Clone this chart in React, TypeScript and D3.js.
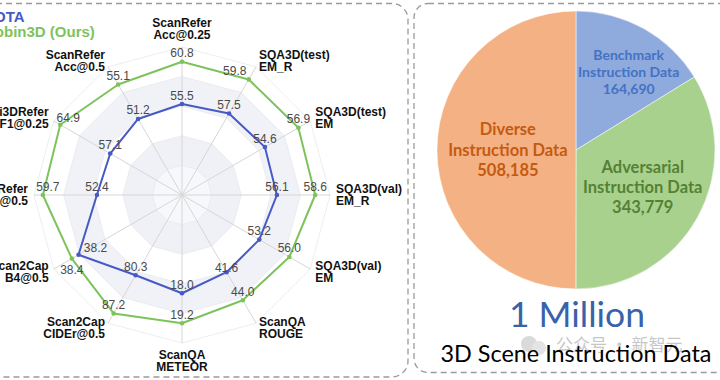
import React from "react";
import * as d3 from "d3";

// ---------- Radar data ----------
const axisNames: string[][] = [
  ["ScanRefer", "Acc@0.25"],
  ["SQA3D(test)", "EM_R"],
  ["SQA3D(test)", "EM"],
  ["SQA3D(val)", "EM_R"],
  ["SQA3D(val)", "EM"],
  ["ScanQA", "ROUGE"],
  ["ScanQA", "METEOR"],
  ["Scan2Cap", "CIDEr@0.5"],
  ["Scan2Cap", "B4@0.5"],
  ["Multi3DRefer", "F1@0.5"],
  ["Multi3DRefer", "F1@0.25"],
  ["ScanRefer", "Acc@0.5"],
];
const axisMin = [44.1, 52.0, 48.9, 49.9, 46.0, 35.0, 14.07, 65.8, 35.1, 40.9, 45.9, 42.6];
const axisMax = [62.65, 60.65, 57.71, 59.57, 57.94, 45.96, 19.99, 88.96, 38.94, 60.9, 65.9, 57.1];
const sotaValues = [55.5, 57.5, 54.6, 56.1, 53.2, 41.6, 18.0, 80.3, 38.2, 52.4, 57.1, 51.2];
const robinValues = [60.8, 59.8, 56.9, 58.6, 56.0, 44.0, 19.2, 87.2, 38.4, 59.7, 64.9, 55.1];
const seriesNames = ["SOTA", "Robin3D (Ours)"];

// ---------- Pie data ----------
const pieCategories = ["Benchmark", "Adversarial", "Diverse"];
const pieValues = [164690, 343779, 508185];
const pieTitle = "1 Million";
const pieSubtitle = "3D Scene Instruction Data";
const watermark = "公众号 · 新智元";

// ---------- styles ----------
const BLUE = "#4759c4";
const GREEN = "#7dc35c";
const pieFill = ["#8faadc", "#a9d18e", "#f4b183"];
const pieText = ["#4472c4", "#548235", "#c55a11"];
const bandFill = ["#f7f8fb", "#eff1f6", "#ffffff", "#f0f2f7", "#ffffff"];

// label nudges (dx, dy) for value labels
const sotaNudge: Record<number, [number, number]> = { 5: [0, 4.5], 8: [17, 2] };
const robinNudge: Record<number, [number, number]> = { 1: [-14, 0], 8: [0, 20], 9: [5, 0], 10: [8, 2] };

export default function App() {
  const W = 720, H = 380;
  const cx = 182, cy = 195, R = 148;
  const n = axisNames.length;
  const ang = (i: number) => (i * 2 * Math.PI) / n;
  const scales = axisNames.map((_, i) =>
    d3.scaleLinear().domain([axisMin[i], axisMax[i]]).range([0, R])
  );
  const pt = (i: number, r: number): [number, number] => [
    cx + r * Math.sin(ang(i)),
    cy - r * Math.cos(ang(i)),
  ];
  const radial = d3
    .lineRadial<number>()
    .angle((_, i) => ang(i))
    .curve(d3.curveLinearClosed);

  const ring = (r: number) => radial.radius(() => r)(axisNames.map(() => 0)) as string;
  const seriesPath = (vals: number[]) =>
    radial.radius((v, i) => scales[i](v))(vals) as string;

  const series = [
    { name: seriesNames[0], vals: sotaValues, color: BLUE, nudge: sotaNudge },
    { name: seriesNames[1], vals: robinValues, color: GREEN, nudge: robinNudge },
  ];

  // pie
  const pcx = 576, pcy = 150, pr = 139;
  const arcs = d3.pie<number>().sort(null)(pieValues);
  const arcGen = d3.arc<d3.PieArcDatum<number>>().innerRadius(0).outerRadius(pr);
  const fmt = d3.format(",");
  const pieLabel = [
    { rf: 0.66, dx: 8, dy: 2, size: 14, lh: 17 },
    { rf: 0.55, dx: 0, dy: 0, size: 16.5, lh: 20 },
    { rf: 0.49, dx: 0, dy: 0, size: 16.5, lh: 20.5 },
  ];

  const radarFont = "'Liberation Sans', Arial, Helvetica, sans-serif";
  const pieFont = "Lato, 'Open Sans', sans-serif";

  return (
    <svg
      width={W}
      height={H}
      style={{ position: "absolute", left: 0, top: 0, background: "#fff" }}
    >
      <rect x={0} y={0} width={W} height={H} fill="#fff" />
      {/* ---------------- Radar ---------------- */}
      <g>
        {d3.range(5, 0, -1).map((k) => (
          <path
            key={"band" + k}
            d={ring((R * k) / 5)}
            transform={`translate(${cx},${cy})`}
            fill={bandFill[k - 1]}
            stroke="#e8e9ee"
            strokeWidth={0.8}
          />
        ))}
        {axisNames.map((_, i) => {
          const [x, y] = pt(i, R);
          return <line key={"ax" + i} x1={cx} y1={cy} x2={x} y2={y} stroke="#d6d6d6" strokeWidth={1} />;
        })}
        {series.map((s) => (
          <g key={s.name}>
            <path
              d={seriesPath(s.vals)}
              transform={`translate(${cx},${cy})`}
              fill="none"
              stroke={s.color}
              strokeWidth={2}
              strokeLinejoin="round"
            />
            {s.vals.map((v, i) => {
              const [x, y] = pt(i, scales[i](v));
              return <circle key={i} cx={x} cy={y} r={2.3} fill={s.color} />;
            })}
          </g>
        ))}
        {series.map((s) =>
          s.vals.map((v, i) => {
            const [x, y] = pt(i, scales[i](v));
            const [dx, dy] = s.nudge[i] || [0, 0];
            return (
              <text
                key={s.name + "l" + i}
                x={x + dx}
                y={y - 4.5 + dy}
                textAnchor="middle"
                fontFamily={radarFont}
                fontSize={12}
                fill="#4a4a4a"
              >
                {v.toFixed(1)}
              </text>
            );
          })
        )}
        {axisNames.map((lines, i) => {
          const a = ang(i);
          const s = Math.sin(a), c = Math.cos(a);
          const [x, y] = pt(i, R + 6);
          let anchor = "middle";
          let b1 = y - 2.5;
          if (Math.abs(s) < 0.01) {
            b1 = c > 0 ? y - 14 : y + 10;
          } else {
            anchor = s > 0 ? "start" : "end";
          }
          return (
            <text
              key={"lab" + i}
              textAnchor={anchor}
              fontFamily={radarFont}
              fontWeight="bold"
              fontSize={12}
              fill="#111"
            >
              {lines.map((t, j) => (
                <tspan key={j} x={x} y={b1 + j * 12}>
                  {t}
                </tspan>
              ))}
            </text>
          );
        })}
        {/* legend */}
        {series.map((s, j) => (
          <text
            key={"leg" + j}
            x={-16}
            y={22 + j * 15}
            fontFamily={radarFont}
            fontWeight="bold"
            fontSize={15}
            fill={s.color}
          >
            {s.name}
          </text>
        ))}
        {/* panel border */}
        <rect
          x={-60}
          y={3.5}
          width={468}
          height={373.5}
          rx={16}
          fill="none"
          stroke="#9a9a9a"
          strokeWidth={1.3}
          strokeDasharray="6 4"
        />
      </g>

      {/* ---------------- Pie ---------------- */}
      <g>
        <rect
          x={414}
          y={3.5}
          width={360}
          height={369}
          rx={14}
          fill="none"
          stroke="#9a9a9a"
          strokeWidth={1.3}
          strokeDasharray="6 4"
        />
        <g transform={`translate(${pcx},${pcy})`}>
          {arcs.map((a, i) => (
            <path key={"sl" + i} d={arcGen(a) as string} fill={pieFill[i]} stroke="#fff" strokeWidth={0.5} />
          ))}
          {arcs.map((a, i) => {
            const mid = (a.startAngle + a.endAngle) / 2;
            const L = pieLabel[i];
            const r = pr * L.rf;
            const x = r * Math.sin(mid) + L.dx;
            const y = -r * Math.cos(mid) + L.dy;
            const lines = [pieCategories[i], "Instruction Data", fmt(pieValues[i])];
            return (
              <text
                key={"pl" + i}
                textAnchor="middle"
                fontFamily={pieFont}
                fontWeight="bold"
                fontSize={L.size}
                fill={pieText[i]}
              >
                {lines.map((t, j) => (
                  <tspan key={j} x={x} y={y + L.size * 0.36 + (j - 1) * L.lh}>
                    {t}
                  </tspan>
                ))}
              </text>
            );
          })}
        </g>
        <text x={577} y={327} textAnchor="middle" fontFamily={pieFont} fontSize={35.5} fill="#3a62aa">
          {pieTitle}
        </text>
        {/* watermark */}
        <g opacity={0.55}>
          <circle cx={529} cy={344} r={8} fill="#bdbdbd" />
          <circle cx={539} cy={348} r={7} fill="#cfcfcf" />
          <text x={556} y={351} fontFamily="'Noto Sans CJK SC', sans-serif" fontSize={17} fill="#9a9a9a">
            {watermark}
          </text>
        </g>
        <text x={576} y={361.5} textAnchor="middle" fontFamily={pieFont} fontSize={23.4} fill="#000">
          {pieSubtitle}
        </text>
      </g>
    </svg>
  );
}
